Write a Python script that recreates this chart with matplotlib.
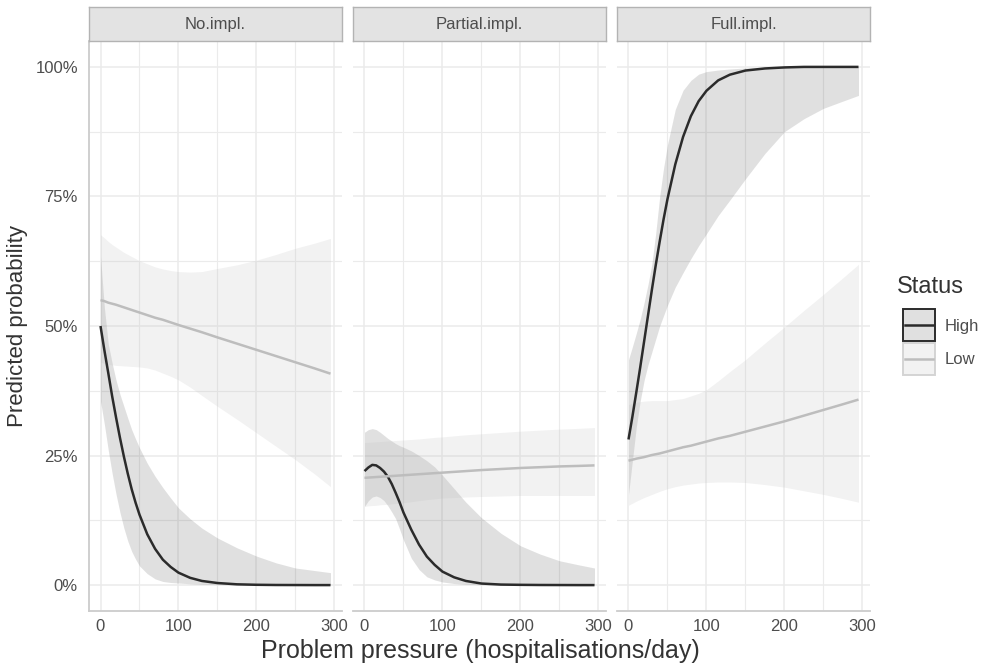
import matplotlib
matplotlib.use("Agg")
import matplotlib.pyplot as plt
from matplotlib.patches import Rectangle
import numpy as np

plt.rcParams['font.family'] = ['Liberation Sans', 'DejaVu Sans']

# problem pressure (hospitalisations/day) where the curves were read
pressure = [0, 5, 10, 15, 20, 25, 30, 35, 40, 45, 50, 60, 70, 80, 90, 100, 115, 130, 150, 175, 200, 225, 250, 275, 295]

panels = ['No.impl.', 'Partial.impl.', 'Full.impl.']

# predicted probability in %
no_high = [50.0, 45.3, 40.9, 36.4, 32.3, 28.4, 24.8, 21.5, 18.5, 15.9, 13.6, 9.8, 7.0, 4.9, 3.5, 2.4, 1.4, 0.8, 0.4, 0.15, 0.06, 0.02, 0.01, 0.0, 0.0]
no_high_lo = [35.5, 31.0, 26.0, 21.5, 17.5, 14.0, 11.0, 8.5, 6.5, 5.0, 3.7, 2.2, 1.2, 0.7, 0.5, 0.4, 0.25, 0.15, 0.1, 0.05, 0.02, 0.01, 0.0, 0.0, 0.0]
no_high_hi = [63.4, 53.5, 46.5, 42.8, 39.5, 36.8, 34.5, 32.2, 30.0, 28.2, 26.5, 23.5, 21.0, 18.8, 16.8, 14.9, 12.8, 11.0, 9.1, 7.2, 5.6, 4.3, 3.3, 2.8, 2.4]
no_low = [55.0, 54.8, 54.5, 54.3, 54.1, 53.85, 53.6, 53.35, 53.1, 52.85, 52.6, 52.1, 51.6, 51.2, 50.7, 50.2, 49.5, 48.8, 47.8, 46.6, 45.4, 44.2, 43.0, 41.8, 40.8]
no_low_lo = [43.0, 42.8, 42.6, 42.5, 42.4, 42.35, 42.3, 42.25, 42.2, 42.15, 42.1, 41.9, 41.5, 40.9, 40.3, 39.6, 38.2, 36.6, 34.5, 32.0, 29.4, 26.8, 24.2, 21.4, 19.0]
no_low_hi = [67.6, 67.0, 66.3, 65.7, 65.2, 64.7, 64.2, 63.8, 63.4, 63.0, 62.6, 62.0, 61.4, 61.0, 60.7, 60.5, 60.4, 60.5, 61.1, 61.8, 62.7, 63.8, 65.0, 66.0, 66.9]

part_high = [22.0, 22.7, 23.2, 23.1, 22.6, 21.9, 20.9, 19.5, 17.8, 16.0, 14.0, 10.7, 7.8, 5.5, 3.9, 2.6, 1.5, 0.8, 0.3, 0.1, 0.05, 0.02, 0.01, 0.0, 0.0]
part_high_lo = [15.2, 16.3, 17.0, 17.2, 16.9, 16.3, 15.3, 14.1, 12.8, 10.8, 8.7, 5.2, 3.0, 1.6, 1.0, 0.6, 0.3, 0.15, 0.08, 0.03, 0.01, 0.0, 0.0, 0.0, 0.0]
part_high_hi = [29.5, 30.0, 30.2, 30.0, 29.5, 28.9, 28.3, 27.8, 27.3, 26.9, 26.6, 25.9, 25.0, 24.0, 22.8, 21.2, 18.6, 16.0, 13.0, 10.0, 7.6, 6.0, 4.7, 3.9, 3.3]
part_low = [20.7, 20.75, 20.8, 20.85, 20.9, 20.95, 21.0, 21.05, 21.1, 21.15, 21.2, 21.3, 21.4, 21.5, 21.6, 21.7, 21.85, 22.0, 22.2, 22.4, 22.6, 22.75, 22.9, 23.0, 23.1]
part_low_lo = [15.2, 15.3, 15.35, 15.4, 15.5, 15.55, 15.6, 15.7, 15.75, 15.8, 15.9, 16.1, 16.3, 16.5, 16.65, 16.8, 16.9, 17.0, 17.1, 17.2, 17.3, 17.3, 17.3, 17.3, 17.3]
part_low_hi = [27.5, 27.55, 27.6, 27.65, 27.7, 27.75, 27.8, 27.85, 27.9, 27.95, 28.0, 28.1, 28.2, 28.35, 28.5, 28.6, 28.8, 29.0, 29.2, 29.45, 29.7, 29.9, 30.1, 30.25, 30.4]

full_high = [28.1, 32.5, 37.2, 42.0, 47.0, 52.0, 57.0, 61.8, 66.3, 70.6, 74.5, 81.2, 86.5, 90.5, 93.4, 95.4, 97.4, 98.5, 99.3, 99.7, 99.9, 100.0, 100.0, 100.0, 100.0]
full_high_lo = [17.5, 24.0, 30.5, 35.5, 39.5, 42.5, 45.0, 47.5, 50.0, 52.0, 54.0, 57.5, 60.3, 63.0, 65.5, 67.8, 71.3, 74.3, 78.4, 83.3, 87.5, 90.0, 92.0, 93.4, 94.5]
full_high_hi = [43.5, 46.0, 48.6, 51.3, 54.5, 58.0, 62.0, 68.0, 75.0, 80.5, 85.0, 91.8, 95.5, 97.4, 98.6, 99.1, 99.4, 99.6, 99.8, 99.9, 100.0, 100.0, 100.0, 100.0, 100.0]
full_low = [24.0, 24.2, 24.4, 24.55, 24.7, 24.9, 25.1, 25.25, 25.4, 25.6, 25.8, 26.2, 26.6, 26.9, 27.3, 27.7, 28.3, 28.8, 29.6, 30.6, 31.6, 32.7, 33.8, 34.9, 35.8]
full_low_lo = [15.4, 15.8, 16.2, 16.55, 16.9, 17.2, 17.5, 17.8, 18.1, 18.35, 18.6, 19.0, 19.3, 19.5, 19.7, 19.8, 19.9, 19.9, 19.8, 19.4, 18.9, 18.2, 17.5, 16.7, 16.0]
full_low_hi = [34.8, 35.1, 35.3, 35.4, 35.5, 35.55, 35.6, 35.6, 35.6, 35.6, 35.6, 35.8, 36.0, 36.5, 37.0, 37.7, 39.4, 41.2, 43.5, 46.7, 49.8, 53.0, 56.1, 59.3, 61.9]

high = [(no_high, no_high_lo, no_high_hi), (part_high, part_high_lo, part_high_hi), (full_high, full_high_lo, full_high_hi)]
low = [(no_low, no_low_lo, no_low_hi), (part_low, part_low_lo, part_low_hi), (full_low, full_low_lo, full_low_hi)]

high_col = '#2b2b2b'
low_col = '#bdbdbd'
text_col = '#4d4d4d'
grid_col = '#ebebeb'

W, H = 987, 667
fig = plt.figure(figsize=(W / 100, H / 100), dpi=100)

x = np.array(pressure)
lefts = [89, 353, 617]
pw = 253
top, bottom = 41, 611

for i, name in enumerate(panels):
    ax = fig.add_axes([lefts[i] / W, (H - bottom) / H, pw / W, (bottom - top) / H])
    hv, hlo, hhi = [np.array(a) / 100 for a in high[i]]
    lv, llo, lhi = [np.array(a) / 100 for a in low[i]]
    ax.fill_between(x, hlo, hhi, color='#333333', alpha=0.15, lw=0, zorder=2)
    ax.fill_between(x, llo, lhi, color='#bebebe', alpha=0.2, lw=0, zorder=2)
    ax.plot(x, hv, color=high_col, lw=1.8, zorder=3, solid_capstyle='butt')
    ax.plot(x, lv, color=low_col, lw=1.8, zorder=3, solid_capstyle='butt')

    ax.set_xlim(-14.75, 309.75)
    ax.set_ylim(-0.05, 1.05)
    ax.set_xticks([0, 100, 200, 300])
    ax.set_xticks([50, 150, 250], minor=True)
    ax.set_yticks([0, 0.25, 0.5, 0.75, 1.0])
    ax.set_yticks([0.125, 0.375, 0.625, 0.875], minor=True)
    ax.grid(True, which='major', color=grid_col, lw=1.1, zorder=0)
    ax.grid(True, which='minor', color=grid_col, lw=0.8, zorder=0)
    ax.set_axisbelow(True)
    ax.tick_params(which='both', length=0, labelsize=12, labelcolor=text_col)
    ax.tick_params(axis='x', pad=6)
    ax.tick_params(axis='y', pad=8)
    if i == 0:
        ax.set_yticklabels(['0%', '25%', '50%', '75%', '100%'])
    else:
        ax.set_yticklabels([])
    for s in ['top', 'right']:
        ax.spines[s].set_visible(False)
    ax.spines['left'].set_visible(i == 0)
    for s in ['left', 'bottom']:
        ax.spines[s].set_color('#cccccc')
        ax.spines[s].set_linewidth(1.3)

    # strip
    sax = fig.add_axes([lefts[i] / W, (H - top) / H, pw / W, 34 / H])
    sax.set_xticks([])
    sax.set_yticks([])
    sax.set_facecolor('#e3e3e3')
    for s in sax.spines.values():
        s.set_color('#b3b3b3')
        s.set_linewidth(1.0)
    sax.text(0.5, 0.5, name, ha='center', va='center', fontsize=12, color=text_col,
             transform=sax.transAxes)

# overlay for titles and legend, in pixel coordinates
ov = fig.add_axes([0, 0, 1, 1], zorder=5)
ov.set_xlim(0, W)
ov.set_ylim(H, 0)
ov.axis('off')
ov.patch.set_alpha(0)

ov.text(480, 651, 'Problem pressure (hospitalisations/day)', ha='center', va='center',
        fontsize=18, color='#333333')
ov.text(18, 326, 'Predicted probability', ha='center', va='center', rotation=90,
        fontsize=16, color='#333333')

ov.text(897, 287, 'Status', ha='left', va='center', fontsize=17, color='#333333')
keys = [('High', '#e0e0e0', high_col, high_col, 309), ('Low', '#f2f2f2', '#d4d4d4', low_col, 343)]
for lab, fc, ec, lc, y0 in keys:
    ov.add_patch(Rectangle((903, y0), 32, 32, facecolor=fc, edgecolor=ec, lw=1.4))
    ov.plot([905, 933], [y0 + 16, y0 + 16], color=lc, lw=1.8)
    ov.text(945, y0 + 17, lab, ha='left', va='center', fontsize=12, color=text_col)

fig.savefig('out.png', dpi=100)
